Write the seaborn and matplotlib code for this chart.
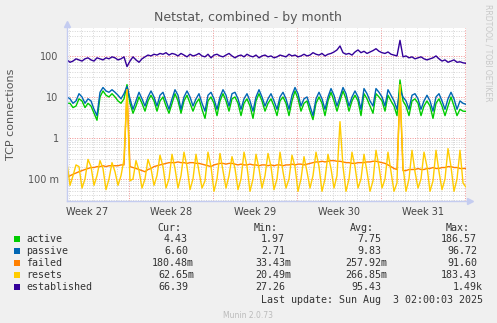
import numpy as np
import pandas as pd
import matplotlib
matplotlib.use("Agg")
import matplotlib.pyplot as plt
import matplotlib.dates as mdates
import matplotlib.ticker as mticker
from matplotlib.patches import Rectangle
from matplotlib.transforms import blended_transform_factory
import seaborn as sns

# ---------------- data (6-hour samples) ----------------
times = pd.date_range("2025-06-30 20:00", periods=134, freq="6h")

active = [7, 7, 5.5, 6, 9, 8, 5.5, 7, 6, 4, 2.7, 10, 14, 11, 10, 12,
          10, 8, 7, 9, 20, 7, 4, 6, 10, 7, 4.5, 8, 11, 8, 4.5, 8,
          10, 6, 4, 7, 12, 8, 4, 8, 11, 7, 4.5, 7, 9, 5, 3, 8,
          10, 7, 3.5, 8, 12, 8, 4.5, 9, 10, 7, 3.5, 7, 9, 6, 3, 8,
          12, 8, 4.5, 7, 9, 6, 3.5, 8, 10, 7, 3.5, 8, 14, 9, 4.5, 7,
          8, 4.5, 2.8, 7, 10, 7, 3.5, 8, 13, 8, 4.5, 8, 14, 9, 4.5, 8,
          11, 8, 3.5, 12, 9, 6, 4, 12, 10, 8, 4.5, 11, 8, 6, 3.5, 26,
          8, 6, 3.5, 8, 9, 7, 3.5, 6, 8, 6, 3, 7, 9, 6, 3.5, 6,
          10, 6, 3.5, 5, 4.5, 4.43]

passive = [10, 9, 7, 8, 12, 10, 7, 9, 8, 5, 3.5, 13, 17, 14, 13, 15,
           13, 11, 9, 12, 18, 9, 5, 8, 13, 9, 6, 10, 14, 10, 6, 11,
           13, 8, 5, 9, 15, 11, 5, 10, 14, 10, 6, 9, 12, 7, 4.5, 11,
           13, 9, 5, 10, 15, 11, 6, 12, 13, 9, 5, 9, 12, 8, 4.5, 10,
           15, 10, 6, 9, 12, 8, 5, 10, 13, 9, 5, 11, 17, 12, 6, 9,
           10, 6, 3.5, 9, 13, 9, 5, 10, 16, 11, 6, 10, 17, 12, 6, 10,
           14, 10, 5, 16, 12, 8, 6, 16, 13, 10, 6, 15, 11, 8, 5, 15,
           10, 8, 5, 11, 12, 9, 5, 8, 11, 8, 4.5, 10, 12, 8, 5, 9,
           13, 9, 5, 8, 7, 6.6]

failed = [0.11, 0.12, 0.13, 0.14, 0.15, 0.16, 0.17, 0.18,
          0.19, 0.19, 0.20, 0.20, 0.21, 0.20, 0.21, 0.21,
          0.21, 0.21, 0.22, 0.22, 15, 0.20, 0.19, 0.18,
          0.17, 0.16, 0.15, 0.17, 0.18, 0.20, 0.21, 0.22,
          0.23, 0.24, 0.25, 0.25, 0.25, 0.26, 0.25, 0.25,
          0.24, 0.25, 0.25, 0.24, 0.24, 0.23, 0.22, 0.21,
          0.20, 0.22, 0.23, 0.24, 0.24, 0.23, 0.24, 0.24,
          0.23, 0.22, 0.23, 0.22, 0.22, 0.23, 0.22, 0.22,
          0.21, 0.22, 0.22, 0.21, 0.22, 0.21, 0.22, 0.22,
          0.21, 0.22, 0.22, 0.23, 0.22, 0.23, 0.23, 0.22,
          0.23, 0.24, 0.25, 0.26, 0.26, 0.27, 0.26, 0.27,
          0.28, 0.28, 0.27, 0.27, 0.26, 0.25, 0.25, 0.24,
          0.24, 0.25, 0.25, 0.25, 0.26, 0.26, 0.27, 0.27,
          0.26, 0.25, 0.24, 0.22, 0.20, 0.18, 0.17, 15,
          0.16, 0.16, 0.17, 0.17, 0.17, 0.18, 0.17, 0.17,
          0.18, 0.18, 0.19, 0.18, 0.18, 0.19, 0.19, 0.20,
          0.20, 0.19, 0.19, 0.18, 0.18, 0.18]

resets = [0.25, 0.07, 0.12, 0.22, 0.2, 0.06, 0.1, 0.3, 0.2, 0.07, 0.12, 0.28,
          0.18, 0.055, 0.1, 0.25, 0.15, 0.07, 0.12, 0.3, 15, 0.09, 0.1, 0.28,
          0.16, 0.06, 0.1, 0.3, 0.18, 0.07, 0.12, 0.38, 0.2, 0.06, 0.1, 0.4,
          0.18, 0.06, 0.12, 0.45, 0.2, 0.055, 0.1, 0.4, 0.15, 0.06, 0.09, 0.45,
          0.2, 0.05, 0.1, 0.42, 0.16, 0.06, 0.12, 0.35, 0.18, 0.055, 0.1, 0.45,
          0.2, 0.05, 0.1, 0.4, 0.18, 0.06, 0.12, 0.42, 0.2, 0.055, 0.1, 0.45,
          0.15, 0.06, 0.1, 0.38, 0.2, 0.05, 0.1, 0.35, 0.15, 0.06, 0.12, 0.45,
          0.2, 0.05, 0.1, 0.4, 0.18, 0.06, 0.12, 2.5, 0.2, 0.05, 0.1, 0.45,
          0.2, 0.06, 0.1, 0.4, 0.15, 0.05, 0.09, 0.5, 0.2, 0.06, 0.1, 0.45,
          0.15, 0.05, 0.08, 20, 0.2, 0.05, 0.1, 0.5, 0.15, 0.06, 0.1, 0.45,
          0.2, 0.05, 0.09, 0.5, 0.15, 0.055, 0.1, 0.55, 0.2, 0.05, 0.1, 0.5,
          0.08, 0.063]

established = [80, 70, 75, 85, 80, 75, 85, 90, 80, 75, 90, 85,
               80, 90, 85, 95, 90, 80, 85, 95, 55, 75, 95, 80,
               70, 85, 95, 105, 100, 110, 105, 115, 110, 120, 105, 115,
               110, 100, 115, 105, 95, 110, 100, 105, 115, 100, 95, 110,
               90, 105, 110, 100, 95, 105, 115, 100, 90, 100, 105, 95,
               110, 100, 95, 105, 90, 100, 105, 95, 100, 90, 95, 105,
               100, 95, 110, 100, 105, 95, 100, 110, 100, 105, 120, 110,
               105, 115, 100, 110, 115, 125, 140, 175, 120, 110, 115, 105,
               125, 140, 120, 130, 115, 125, 135, 150, 130, 120, 115, 125,
               110, 105, 100, 240, 95, 100, 90, 95, 85, 90, 95, 85,
               80, 85, 90, 100, 85, 75, 80, 70, 75, 80, 70, 72,
               68, 66]

series_names = ["active", "passive", "failed", "resets", "established"]
series_colors = ["#00CC00", "#0066B3", "#FF8000", "#FFCC00", "#330099"]
cur_vals = ["4.43", "6.60", "180.48m", "62.65m", "66.39"]
min_vals = ["1.97", "2.71", "33.43m", "20.49m", "27.26"]
avg_vals = ["7.75", "9.83", "257.92m", "266.85m", "95.43"]
max_vals = ["186.57", "96.72", "91.60", "183.43", "1.49k"]
week_labels = ["Week 27", "Week 28", "Week 29", "Week 30", "Week 31"]
week_centers = pd.to_datetime(["2025-07-02 12:00", "2025-07-09 12:00", "2025-07-16 12:00",
                               "2025-07-23 12:00", "2025-07-30 12:00"])

df = pd.DataFrame({
    "time": np.tile(times, 5),
    "value": np.concatenate([active, passive, failed, resets, established]),
    "series": np.repeat(series_names, len(times)),
})

# ---------------- figure ----------------
sns.set_theme(style="white")
plt.rcParams["font.family"] = ["DejaVu Sans"]

W, H = 497, 323
fig = plt.figure(figsize=(W / 100, H / 100), dpi=100, facecolor="#F0F0F0")
L, R, T, B = 67, 466, 28, 201
ax = fig.add_axes([L / W, 1 - B / H, (R - L) / W, (B - T) / H])
ax.set_facecolor("white")

sns.lineplot(data=df, x="time", y="value", hue="series", hue_order=series_names,
             palette=series_colors, linewidth=1.0, legend=False, ax=ax,
             estimator=None, sort=False)

ax.set_yscale("log")
ax.set_ylim(0.029, 480)
ax.set_xlim(pd.Timestamp("2025-06-30 20:00"), pd.Timestamp("2025-08-03 02:00"))

ax.yaxis.set_major_locator(mticker.FixedLocator([0.1, 1, 10, 100]))
ax.yaxis.set_major_formatter(mticker.FixedFormatter(["100 m", "1", "10", "100"]))
ax.yaxis.set_minor_locator(mticker.LogLocator(base=10, subs=np.arange(2, 10)))
ax.yaxis.set_minor_formatter(mticker.NullFormatter())

ax.xaxis.set_major_locator(mdates.WeekdayLocator(byweekday=mdates.SU))
ax.xaxis.set_minor_locator(mdates.DayLocator())
ax.xaxis.set_major_formatter(mticker.NullFormatter())
ax.xaxis.set_minor_formatter(mticker.NullFormatter())

ax.grid(which="minor", axis="both", color="#d4d4d4", linestyle=(0, (1, 1.5)), linewidth=0.7)
ax.grid(which="major", axis="both", color="#f09090", linestyle=(0, (1, 1.5)), linewidth=0.7)
ax.set_axisbelow(True)

ax.tick_params(axis="both", which="both", length=0, labelsize=7, labelcolor="#555555", pad=6)
ax.set_xlabel("")
ax.set_ylabel("TCP connections", fontsize=8, color="#555555")
ax.yaxis.set_label_coords(-(L - 16) / (R - L), 0.5)

for s in ["top", "right"]:
    ax.spines[s].set_visible(False)
for s in ["left", "bottom"]:
    ax.spines[s].set_color("#c4ccf0")
    ax.spines[s].set_linewidth(1.0)
ax.plot([1.01], [0], marker=">", color="#c4ccf0", markersize=4, transform=ax.transAxes, clip_on=False)
ax.plot([0], [1.025], marker="^", color="#c4ccf0", markersize=4, transform=ax.transAxes, clip_on=False)

trans = blended_transform_factory(ax.transData, ax.transAxes)
for c, lab in zip(week_centers, week_labels):
    ax.text(mdates.date2num(c), -(212 - B) / (B - T), lab, transform=trans, ha="center",
            va="center", fontsize=7, color="#444444")

# title and side texts
fig.text(248 / W, 1 - 18 / H, "Netstat, combined - by month", ha="center", va="center",
         fontsize=9, color="#555555")
fig.text(488 / W, 1 - 4 / H, "RRDTOOL / TOBI OETIKER", rotation=270, ha="center", va="top",
         fontsize=5.5, color="#c8c8c8")

# legend table
mono = "DejaVu Sans Mono"
fs = 7.2
tc = "#333333"
def fy(y):
    return 1 - y / H

head_y = 228
for hx, h in zip([181, 278, 374, 470], ["Cur:", "Min:", "Avg:", "Max:"]):
    fig.text(hx / W, fy(head_y), h, ha="right", va="center", family=mono, fontsize=fs, color=tc)

rows_y = [239, 251, 263, 275, 287]
cols_r = [194, 291, 387, 483]
for k, name in enumerate(series_names):
    y = rows_y[k]
    fig.patches.append(Rectangle((14 / W, fy(y + 3)), 6 / W, 6 / H, transform=fig.transFigure,
                                 facecolor=series_colors[k], edgecolor="none"))
    fig.text(26 / W, fy(y), name, ha="left", va="center", family=mono, fontsize=fs, color=tc)
    for cr, vals in zip(cols_r, [cur_vals, min_vals, avg_vals, max_vals]):
        v = vals[k]
        xr = cr if v[-1].isalpha() else cr - 6
        fig.text(xr / W, fy(y), v, ha="right", va="center", family=mono, fontsize=fs, color=tc)

fig.text(483 / W, fy(300), "Last update: Sun Aug  3 02:00:03 2025", ha="right", va="center",
         family=mono, fontsize=fs, color=tc)
fig.text(248 / W, fy(316), "Munin 2.0.73", ha="center", va="center", fontsize=5.5, color="#bbbbbb")

fig.savefig("out.png", dpi=100, facecolor=fig.get_facecolor())
